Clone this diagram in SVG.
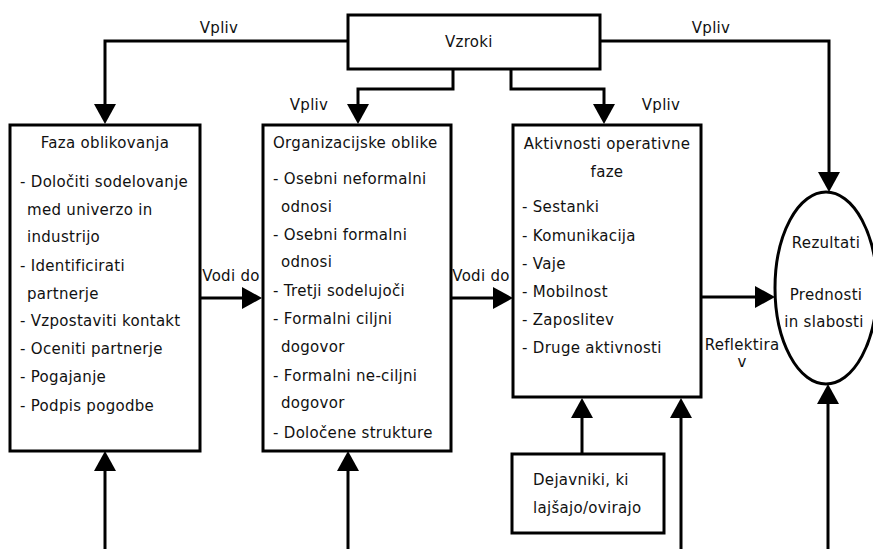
<svg xmlns="http://www.w3.org/2000/svg" width="873" height="549" viewBox="0 0 873 549">
<defs>
<style>
text{font-family:"DejaVu Sans","Liberation Sans",sans-serif;font-size:15px;fill:#111;letter-spacing:0.3px}
.c{text-anchor:middle}
.box{fill:#fff;stroke:#000;stroke-width:3}
.ln{fill:none;stroke:#000;stroke-width:3}
.ar{fill:none;stroke:#000;stroke-width:3;marker-end:url(#ah)}
</style>
<marker id="ah" markerUnits="userSpaceOnUse" viewBox="0 0 20 22" refX="10" refY="11" markerWidth="20" markerHeight="22" orient="auto">
<path d="M0,0 L20,11 L0,22 Z" fill="#000"/>
</marker>
</defs>
<rect width="873" height="549" fill="#fff"/>
<g id="connectors">
<polyline class="ar" points="348,41 105,41 105,114"/>
<polyline class="ar" points="453,69 453,89 358,89 358,114"/>
<polyline class="ar" points="511,69 511,89 604,89 604,114"/>
<polyline class="ar" points="600,41 829,41 829,182"/>
<line class="ar" x1="200" y1="298" x2="252" y2="298"/>
<line class="ar" x1="451" y1="298" x2="503" y2="298"/>
<line class="ar" x1="701" y1="297" x2="765" y2="297"/>
<line class="ar" x1="105" y1="549" x2="105" y2="461"/>
<line class="ar" x1="348" y1="549" x2="348" y2="461"/>
<line class="ar" x1="582" y1="454" x2="582" y2="408"/>
<line class="ar" x1="681" y1="549" x2="681" y2="408"/>
<line class="ar" x1="828" y1="549" x2="828" y2="394"/>
<text x="219" y="33" class="c">Vpliv</text>
<text x="309" y="110" class="c">Vpliv</text>
<text x="711" y="33" class="c">Vpliv</text>
<text x="661" y="110" class="c">Vpliv</text>
<text x="231" y="281" class="c">Vodi do</text>
<text x="481" y="281" class="c">Vodi do</text>
<text x="742" y="350" class="c">Reflektira</text>
<text x="742" y="367" class="c">v</text>
</g>
<g id="vzroki">
<rect class="box" x="348" y="15" width="252" height="54"/>
<text x="445" y="47">Vzroki</text>
</g>
<g id="faza">
<rect class="box" x="10" y="125" width="190" height="326"/>
<text x="105" y="148" class="c">Faza oblikovanja</text>
<text x="20" y="187">- Določiti sodelovanje</text>
<text x="27" y="215">med univerzo in</text>
<text x="27" y="242">industrijo</text>
<text x="20" y="271">- Identificirati</text>
<text x="27" y="299">partnerje</text>
<text x="20" y="326">- Vzpostaviti kontakt</text>
<text x="20" y="354">- Oceniti partnerje</text>
<text x="20" y="382">- Pogajanje</text>
<text x="20" y="411">- Podpis pogodbe</text>
</g>
<g id="organizacijske">
<rect class="box" x="263" y="125" width="188" height="326"/>
<text x="273" y="148">Organizacijske oblike</text>
<text x="273" y="184">- Osebni neformalni</text>
<text x="281" y="212">odnosi</text>
<text x="273" y="240">- Osebni formalni</text>
<text x="281" y="267">odnosi</text>
<text x="273" y="296">- Tretji sodelujoči</text>
<text x="273" y="324">- Formalni ciljni</text>
<text x="281" y="352">dogovor</text>
<text x="273" y="381">- Formalni ne-ciljni</text>
<text x="281" y="408">dogovor</text>
<text x="273" y="438">- Določene strukture</text>
</g>
<g id="aktivnosti">
<rect class="box" x="513" y="125" width="188" height="272"/>
<text x="607" y="149" class="c">Aktivnosti operativne</text>
<text x="607" y="177" class="c">faze</text>
<text x="522" y="212">- Sestanki</text>
<text x="522" y="241">- Komunikacija</text>
<text x="522" y="269">- Vaje</text>
<text x="522" y="297">- Mobilnost</text>
<text x="522" y="325">- Zaposlitev</text>
<text x="522" y="353">- Druge aktivnosti</text>
</g>
<g id="rezultati">
<ellipse class="box" cx="826" cy="288" rx="51" ry="96"/>
<text x="826" y="248" class="c">Rezultati</text>
<text x="826" y="300" class="c">Prednosti</text>
<text x="824" y="327" class="c">in slabosti</text>
</g>
<g id="dejavniki">
<rect class="box" x="512" y="454" width="152" height="79"/>
<text x="533" y="485">Dejavniki, ki</text>
<text x="533" y="513">lajšajo/ovirajo</text>
</g>
</svg>
